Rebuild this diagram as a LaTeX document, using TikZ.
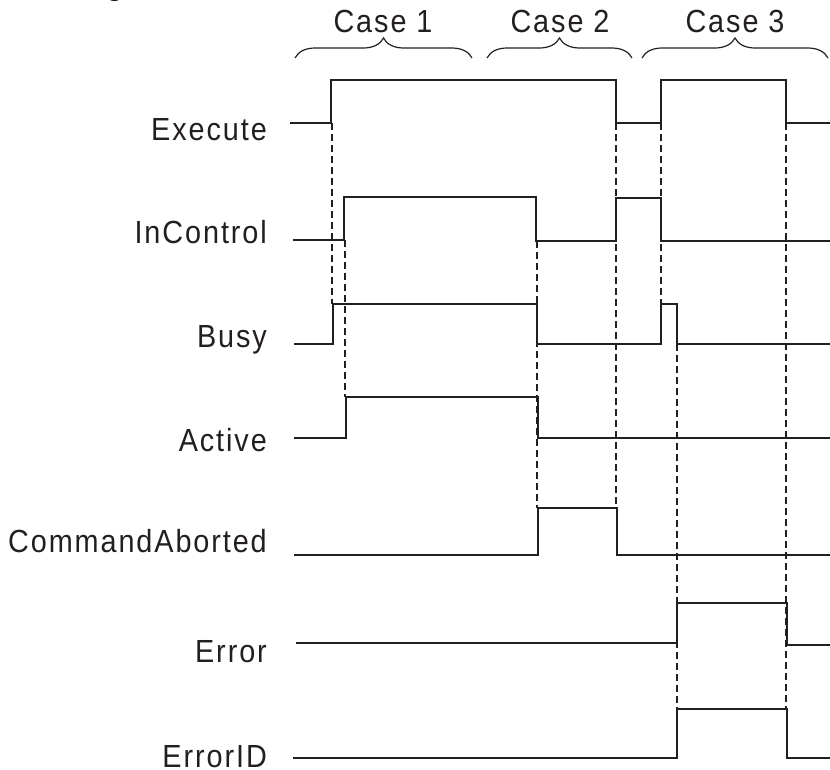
\documentclass[tikz,border=0pt]{standalone}
\usepackage{fontspec}
\setmainfont{Liberation Sans}[LetterSpace=6, FakeStretch=0.9]
\usepackage{tikz}
\usetikzlibrary{positioning, calc, decorations.pathreplacing}
\definecolor{ink}{HTML}{231F20}

\begin{document}
\begin{tikzpicture}[x=1pt, y=-1pt]
    \tikzset{
        signal label/.style={
                font=\fontsize{32}{36}\selectfont, text=ink, anchor=base east, inner sep=0pt
            },
        case label/.style={
                font=\fontsize{32}{36}\selectfont, text=ink, anchor=base, inner sep=0pt
            },
        wave/.style={
                draw=ink, line width=1.4pt, line join=miter
            },
        sync line/.style={
                draw=ink, line width=1.4pt, dash pattern=on 7pt off 4pt
            },
        case brace/.style={
                draw=ink, line width=1.2pt,
                decorate, decoration={brace, amplitude=20pt}
            }
    }
    \useasboundingbox (0,0) rectangle (830,769);

    % cut-off title
    \node[anchor=base east, inner sep=0pt, font=\bfseries\fontsize{29}{34}\selectfont, text=ink] (title) at (123,-5) {g};

    % Cases
    \draw[case brace] (295,58) -- (472,58);
    \draw[case brace] (487,58) -- (632,58);
    \draw[case brace] (642,58) -- (828,58);
    \node[case label] (case1) at (383,32) {Case 1};
    \node[case label] (case2) at (560,32) {Case 2};
    \node[case label] (case3) at (735,32) {Case 3};

    % Signal names
    \node[signal label] (execute) at (267,140) {Execute};
    \node[signal label] (incontrol) at (267,243) {InControl};
    \node[signal label] (busy) at (267,347) {Busy};
    \node[signal label] (active) at (267,451) {Active};
    \node[signal label] (aborted) at (267,552) {CommandAborted};
    \node[signal label] (error) at (267,662) {Error};
    \node[signal label] (errorid) at (267,767) {ErrorID};

    % Waveforms
    \draw[wave] (290,123) -- (331,123) -- (331,80) -- (616,80) -- (616,123) -- (661,123) -- (661,80) -- (786,80) -- (786,123) -- (830,123);
    \draw[wave] (293,240) -- (344,240) -- (344,197) -- (536,197) -- (536,241) -- (616,241) -- (616,198) -- (661,198) -- (661,241) -- (830,241);
    \draw[wave] (294,344) -- (333,344) -- (333,304) -- (537,304) -- (537,344) -- (661,344) -- (661,304) -- (677,304) -- (677,344) -- (830,344);
    \draw[wave] (294,438) -- (346,438) -- (346,397) -- (538,397) -- (538,438) -- (830,438);
    \draw[wave] (294,555) -- (538,555) -- (538,508) -- (617,508) -- (617,555) -- (830,555);
    \draw[wave] (296,643) -- (677,643) -- (677,603) -- (787,603) -- (787,645) -- (830,645);
    \draw[wave] (293,758) -- (677,758) -- (677,709) -- (787,709) -- (787,758) -- (830,758);

    % Dashed sync lines
    \draw[sync line] (332,123) -- (332,304);
    \draw[sync line] (345,240) -- (345,397);
    \draw[sync line] (537,241) -- (537,508);
    \draw[sync line] (616,123) -- (616,508);
    \draw[sync line] (661,123) -- (661,304);
    \draw[sync line] (677,344) -- (677,709);
    \draw[sync line] (786,123) -- (786,709);
\end{tikzpicture}
\end{document}
